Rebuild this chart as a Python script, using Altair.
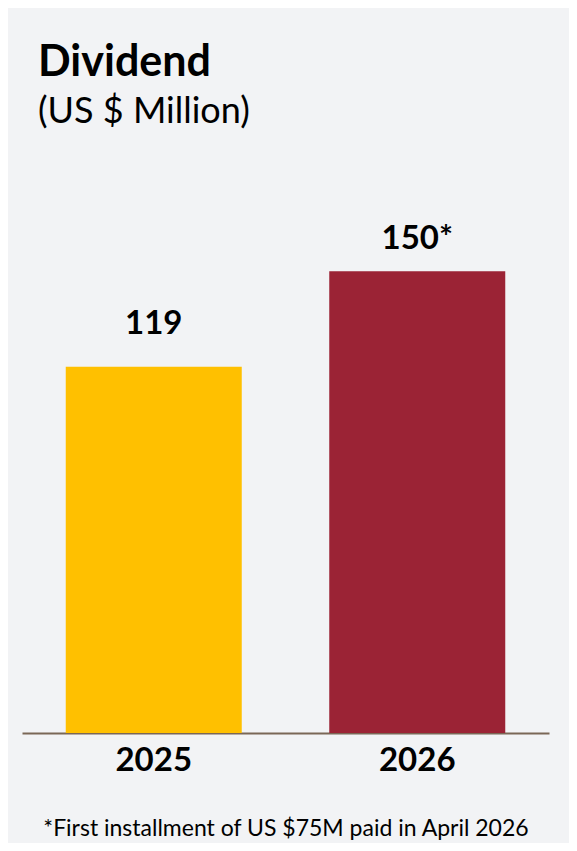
import altair as alt
import pandas as pd

years = ["2025", "2026"]
dividends = [119, 150]
value_labels = ["119", "150*"]
bar_colors = ["#FFC000", "#9B2335"]

df = pd.DataFrame({"year": years, "dividend": dividends, "label": value_labels})

FONT = "Lato"
BG = "#F2F3F5"

x_enc = alt.X(
    "year:N",
    sort=years,
    scale=alt.Scale(paddingInner=0.332, paddingOuter=0.166),
    axis=alt.Axis(
        title="*First installment of US $75M paid in April 2026",
        titleFont=FONT,
        titleFontSize=23,
        titleFontWeight="normal",
        titleColor="#000000",
        titlePadding=40,
        labelFont=FONT,
        labelFontSize=33,
        labelFontWeight="bold",
        labelColor="#000000",
        labelPadding=11,
        labelAngle=0,
        ticks=False,
        tickSize=0,
        domainColor="#7A6756",
        domainWidth=2,
        grid=False,
    ),
)
y_enc = alt.Y(
    "dividend:Q",
    scale=alt.Scale(domain=[0, 192.66], nice=False, zero=True),
    axis=None,
)

bars = alt.Chart(df).mark_bar(size=176).encode(
    x=x_enc,
    y=y_enc,
    color=alt.Color("year:N", scale=alt.Scale(domain=years, range=bar_colors), legend=None),
)

text_common = dict(font=FONT, fontSize=33, fontWeight="bold", color="#000000",
                   align="center", baseline="alphabetic")
lab1 = alt.Chart(df).transform_filter(alt.datum.year == "2025").mark_text(dy=-33, **text_common).encode(
    x=alt.X("year:N", sort=years), y=alt.Y("dividend:Q"), text="label:N")
lab2 = alt.Chart(df).transform_filter(alt.datum.year == "2026").mark_text(dy=-22, **text_common).encode(
    x=alt.X("year:N", sort=years), y=alt.Y("dividend:Q"), text="label:N")

chart = alt.layer(bars, lab1, lab2).properties(
    width=527,
    height=593,
    title=alt.TitleParams(
        text="Dividend",
        subtitle="(US $ Million)",
        anchor="start",
        frame="group",
        dx=16,
        offset=10,
        font=FONT,
        fontSize=43,
        fontWeight="bold",
        color="#000000",
        subtitleFont=FONT,
        subtitleFontSize=36,
        subtitleColor="#000000",
        subtitlePadding=10,
    ),
    background=BG,
    padding={"left": 14, "top": 132, "right": 20, "bottom": 110},
    autosize=alt.AutoSizeParams(type="none"),
).configure_view(stroke=None)

chart.save("out.html", embed_options={"renderer": "svg", "actions": False})
